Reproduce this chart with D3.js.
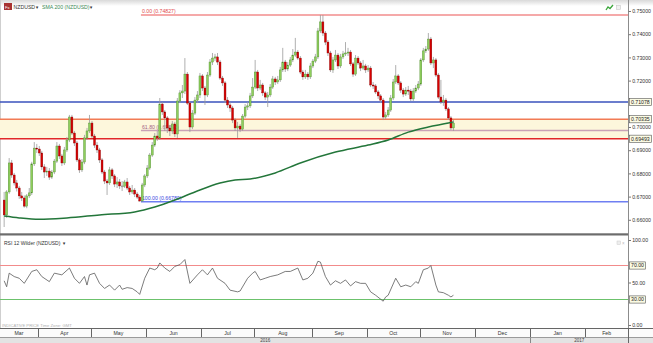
<!DOCTYPE html>
<html>
<head>
<meta charset="utf-8">
<script src="https://cdn.jsdelivr.net/npm/d3@7"></script>
<style>
  body { margin: 0; background: #fff; }
  svg { display: block; font-family: "Liberation Sans", Arial, sans-serif; }
</style>
</head>
<body>
<div id="chart"></div>
<script>
// ---- data ----
var firstDay = new Date(2016, 2, 14), lastDay = new Date(2017, 1, 25);

var opens = [
  0.6685, 0.6621, 0.6720, 0.6845, 0.6793, 0.6759, 0.6737, 0.6703, 0.6694, 0.6659,
  0.6703, 0.6716, 0.6841, 0.6909, 0.6905, 0.6888, 0.6828, 0.6806, 0.6810, 0.6784,
  0.6806, 0.6853, 0.6918, 0.6875, 0.6845, 0.6901, 0.6944, 0.7043, 0.6974, 0.6931,
  0.6858, 0.6815, 0.6849, 0.6953, 0.6983, 0.7017, 0.6961, 0.6922, 0.6901, 0.6858,
  0.6806, 0.6767, 0.6759, 0.6815, 0.6789, 0.6754, 0.6763, 0.6746, 0.6745, 0.6763,
  0.6737, 0.6720, 0.6728, 0.6711, 0.6698, 0.6681, 0.6750, 0.6789, 0.6823, 0.6879,
  0.6922, 0.6961, 0.6953, 0.7099, 0.7065, 0.7039, 0.6996, 0.6983, 0.7013, 0.6970,
  0.7112, 0.7147, 0.7155, 0.7228, 0.7103, 0.7000, 0.7060, 0.7116, 0.7138, 0.7220,
  0.7168, 0.7138, 0.7224, 0.7280, 0.7297, 0.7302, 0.7280, 0.7211, 0.7190, 0.7116,
  0.7095, 0.7082, 0.7030, 0.6996, 0.7004, 0.6991, 0.7047, 0.7086, 0.7091, 0.7134,
  0.7172, 0.7237, 0.7168, 0.7181, 0.7147, 0.7129, 0.7138, 0.7172, 0.7207, 0.7194,
  0.7203, 0.7246, 0.7280, 0.7250, 0.7267, 0.7289, 0.7310, 0.7323, 0.7297, 0.7237,
  0.7216, 0.7228, 0.7216, 0.7263, 0.7284, 0.7302, 0.7414, 0.7453, 0.7405, 0.7366,
  0.7319, 0.7246, 0.7289, 0.7310, 0.7263, 0.7302, 0.7315, 0.7319, 0.7323, 0.7272,
  0.7228, 0.7297, 0.7276, 0.7254, 0.7263, 0.7246, 0.7254, 0.7181, 0.7177, 0.7151,
  0.7134, 0.7116, 0.7043, 0.7052, 0.7073, 0.7125, 0.7194, 0.7220, 0.7190, 0.7159,
  0.7142, 0.7159, 0.7155, 0.7121, 0.7155, 0.7168, 0.7185, 0.7289, 0.7328, 0.7336,
  0.7379, 0.7276, 0.7289, 0.7224, 0.7129, 0.7108, 0.7116, 0.7078, 0.7039, 0.6996
];
var closes = [
  0.6621, 0.6720, 0.6845, 0.6793, 0.6759, 0.6737, 0.6703, 0.6694, 0.6659, 0.6703,
  0.6716, 0.6841, 0.6909, 0.6905, 0.6888, 0.6828, 0.6806, 0.6810, 0.6784, 0.6806,
  0.6853, 0.6918, 0.6875, 0.6845, 0.6901, 0.6944, 0.7043, 0.6974, 0.6931, 0.6858,
  0.6815, 0.6849, 0.6953, 0.6983, 0.7017, 0.6961, 0.6922, 0.6901, 0.6858, 0.6806,
  0.6767, 0.6759, 0.6815, 0.6789, 0.6754, 0.6763, 0.6746, 0.6745, 0.6763, 0.6737,
  0.6720, 0.6728, 0.6711, 0.6698, 0.6681, 0.6750, 0.6789, 0.6823, 0.6879, 0.6922,
  0.6961, 0.6953, 0.7099, 0.7065, 0.7039, 0.6996, 0.6983, 0.7013, 0.6970, 0.7112,
  0.7147, 0.7155, 0.7228, 0.7103, 0.7000, 0.7060, 0.7116, 0.7138, 0.7220, 0.7168,
  0.7138, 0.7224, 0.7280, 0.7297, 0.7302, 0.7280, 0.7211, 0.7190, 0.7116, 0.7095,
  0.7082, 0.7030, 0.6996, 0.7004, 0.6991, 0.7047, 0.7086, 0.7091, 0.7134, 0.7172,
  0.7237, 0.7168, 0.7181, 0.7147, 0.7129, 0.7138, 0.7172, 0.7207, 0.7194, 0.7203,
  0.7246, 0.7280, 0.7250, 0.7267, 0.7289, 0.7310, 0.7323, 0.7297, 0.7237, 0.7216,
  0.7228, 0.7216, 0.7263, 0.7284, 0.7302, 0.7414, 0.7453, 0.7405, 0.7366, 0.7319,
  0.7246, 0.7289, 0.7310, 0.7263, 0.7302, 0.7315, 0.7319, 0.7323, 0.7272, 0.7228,
  0.7297, 0.7276, 0.7254, 0.7263, 0.7246, 0.7254, 0.7181, 0.7177, 0.7151, 0.7134,
  0.7116, 0.7043, 0.7052, 0.7073, 0.7125, 0.7194, 0.7220, 0.7190, 0.7159, 0.7142,
  0.7159, 0.7155, 0.7121, 0.7155, 0.7168, 0.7185, 0.7289, 0.7328, 0.7336, 0.7379,
  0.7276, 0.7289, 0.7224, 0.7129, 0.7108, 0.7116, 0.7078, 0.7039, 0.6996, 0.7017
];
var highs = [
  0.6720, 0.6728, 0.6866, 0.6858, 0.6802, 0.6772, 0.6746, 0.6720, 0.6705, 0.6711,
  0.6737, 0.6850, 0.6935, 0.6927, 0.6918, 0.6897, 0.6840, 0.6828, 0.6823, 0.6815,
  0.6862, 0.6935, 0.6927, 0.6884, 0.6914, 0.6957, 0.7052, 0.7052, 0.6983, 0.6940,
  0.6866, 0.6862, 0.6966, 0.6996, 0.7052, 0.7026, 0.6970, 0.6935, 0.6910, 0.6866,
  0.6815, 0.6776, 0.6828, 0.6823, 0.6797, 0.6784, 0.6776, 0.6767, 0.6772, 0.6780,
  0.6746, 0.6750, 0.6737, 0.6720, 0.6707, 0.6759, 0.6797, 0.6836, 0.6888, 0.6935,
  0.6974, 0.6983, 0.7125, 0.7108, 0.7073, 0.7047, 0.7009, 0.7026, 0.7022, 0.7125,
  0.7159, 0.7181, 0.7297, 0.7237, 0.7112, 0.7073, 0.7129, 0.7155, 0.7233, 0.7228,
  0.7177, 0.7237, 0.7293, 0.7319, 0.7315, 0.7319, 0.7289, 0.7220, 0.7198, 0.7129,
  0.7108, 0.7091, 0.7039, 0.7022, 0.7013, 0.7056, 0.7099, 0.7108, 0.7147, 0.7211,
  0.7289, 0.7246, 0.7203, 0.7190, 0.7155, 0.7151, 0.7185, 0.7220, 0.7216, 0.7220,
  0.7259, 0.7341, 0.7289, 0.7280, 0.7302, 0.7336, 0.7384, 0.7332, 0.7306, 0.7246,
  0.7246, 0.7237, 0.7276, 0.7293, 0.7315, 0.7427, 0.7483, 0.7483, 0.7414, 0.7375,
  0.7328, 0.7302, 0.7332, 0.7319, 0.7315, 0.7328, 0.7366, 0.7341, 0.7332, 0.7280,
  0.7310, 0.7306, 0.7284, 0.7289, 0.7272, 0.7267, 0.7263, 0.7194, 0.7185, 0.7159,
  0.7142, 0.7125, 0.7065, 0.7086, 0.7138, 0.7207, 0.7267, 0.7228, 0.7198, 0.7168,
  0.7172, 0.7177, 0.7164, 0.7168, 0.7181, 0.7198, 0.7297, 0.7341, 0.7349, 0.7405,
  0.7388, 0.7302, 0.7297, 0.7233, 0.7203, 0.7138, 0.7125, 0.7086, 0.7047, 0.7030
];
var lows = [
  0.6569, 0.6608, 0.6712, 0.6781, 0.6748, 0.6722, 0.6690, 0.6681, 0.6652, 0.6650,
  0.6694, 0.6707, 0.6832, 0.6888, 0.6875, 0.6815, 0.6780, 0.6789, 0.6772, 0.6776,
  0.6797, 0.6845, 0.6862, 0.6832, 0.6836, 0.6892, 0.6935, 0.6966, 0.6918, 0.6849,
  0.6802, 0.6806, 0.6840, 0.6944, 0.6974, 0.6953, 0.6910, 0.6888, 0.6845, 0.6797,
  0.6754, 0.6707, 0.6750, 0.6776, 0.6741, 0.6737, 0.6733, 0.6724, 0.6737, 0.6728,
  0.6707, 0.6711, 0.6698, 0.6690, 0.6678, 0.6678, 0.6741, 0.6780, 0.6815, 0.6871,
  0.6914, 0.6940, 0.6944, 0.7052, 0.6983, 0.6974, 0.6961, 0.6970, 0.6957, 0.6953,
  0.7103, 0.7125, 0.7142, 0.7095, 0.6978, 0.6991, 0.7052, 0.7103, 0.7125, 0.7155,
  0.7095, 0.7129, 0.7216, 0.7267, 0.7284, 0.7267, 0.7203, 0.7177, 0.7103, 0.7082,
  0.7065, 0.7017, 0.6983, 0.6953, 0.6978, 0.6983, 0.7039, 0.7073, 0.7082, 0.7125,
  0.7164, 0.7155, 0.7159, 0.7134, 0.7116, 0.7086, 0.7129, 0.7164, 0.7181, 0.7185,
  0.7194, 0.7237, 0.7237, 0.7241, 0.7259, 0.7280, 0.7302, 0.7289, 0.7228, 0.7203,
  0.7207, 0.7203, 0.7207, 0.7254, 0.7276, 0.7293, 0.7405, 0.7392, 0.7353, 0.7306,
  0.7237, 0.7233, 0.7280, 0.7250, 0.7254, 0.7293, 0.7306, 0.7306, 0.7263, 0.7216,
  0.7220, 0.7267, 0.7241, 0.7246, 0.7233, 0.7237, 0.7172, 0.7164, 0.7142, 0.7121,
  0.7103, 0.7030, 0.7034, 0.7043, 0.7065, 0.7116, 0.7185, 0.7181, 0.7147, 0.7129,
  0.7134, 0.7138, 0.7112, 0.7112, 0.7147, 0.7159, 0.7177, 0.7280, 0.7319, 0.7328,
  0.7267, 0.7254, 0.7216, 0.7121, 0.7099, 0.7091, 0.7069, 0.7030, 0.6987, 0.6983
];

// SMA 200 read at points along the curve: [candle index, value]
var smaPoints = [
  [0, 0.6616], [6, 0.6608], [14, 0.6602], [25, 0.6608], [38, 0.6621], [52, 0.6634],
  [60, 0.6655], [68, 0.6685], [76, 0.6720], [86, 0.6759], [92, 0.6772], [98, 0.6776],
  [108, 0.6802], [118, 0.6845], [132, 0.6892], [145, 0.6922], [153, 0.6944],
  [161, 0.6978], [169, 0.7000], [177, 0.7017], [179, 0.7022]
];

// RSI 12 Wilder vertices: [candle index, value]
var rsiPoints = [
  [0, 52], [1, 45], [2, 61], [4, 57], [6, 55], [8, 49], [11, 63], [13, 65], [15, 57],
  [18, 51], [20, 61], [23, 59], [26, 67], [28, 55], [30, 49], [32, 57], [33, 47],
  [34, 59], [36, 61], [38, 49], [40, 43], [42, 47], [44, 41], [46, 47], [47, 42],
  [49, 44], [51, 43], [53, 39], [54, 36], [56, 55], [58, 67], [60, 65], [61, 67],
  [62, 73], [64, 67], [66, 63], [68, 69], [70, 71], [72, 77], [74, 49], [77, 59],
  [79, 65], [81, 59], [83, 67], [85, 55], [88, 49], [90, 41], [93, 39], [94, 40],
  [97, 55], [99, 61], [100, 63], [102, 53], [104, 55], [106, 57], [109, 59], [112, 63],
  [114, 63], [117, 67], [119, 53], [121, 55], [123, 61], [125, 75], [126, 74],
  [128, 57], [130, 47], [132, 52], [134, 49], [136, 53], [138, 46], [140, 51],
  [142, 49], [144, 49], [146, 39], [148, 35], [151, 28], [152, 33], [153, 35],
  [156, 55], [158, 45], [160, 47], [162, 45], [164, 51], [165, 49], [167, 65],
  [169, 67], [170, 70], [172, 47], [173, 39], [175, 38], [177, 35], [178, 33], [179, 35]
];

var levelValues = [0.71078, 0.70335, 0.69493];
var levelColors = ["#3a52bd", "#f27b55", "#e12828"];
var fibPct = ["0.00", "61.80", "100.00"];
var fibValues = [0.74827, 0.69852, 0.66780];
var fibColors = ["#f28c8c", "#c9a2b6", "#6f7ff2"];
var fibTextColors = ["#e24c4c", "#a46484", "#3a48e0"];
var fibStartIndex = 55;

// 0.71000 sits under the 0.71078 level box in the original, so it is not listed
var priceTicks = [0.66, 0.67, 0.68, 0.69, 0.70, 0.72, 0.73, 0.74, 0.75];
var rsiTicks = [0, 50, 100];
var rsiBandValues = [70, 30];
var rsiBandColors = ["#f28b8b", "#6cc26c"];

// ---- layout ----
var W = 653, H = 343;
var axisX = 628;
var priceTop = 0, priceBottom = 232;
var rsiTop = 240, rsiBottom = 325;

var svg = d3.select("#chart").append("svg")
    .attr("width", W)
    .attr("height", H);

var defs = svg.append("defs");
var grad = defs.append("linearGradient").attr("id", "hdr").attr("x1", 0).attr("x2", 0).attr("y1", 0).attr("y2", 1);
grad.append("stop").attr("offset", 0).attr("stop-color", "#d9d9d9");
grad.append("stop").attr("offset", 1).attr("stop-color", "#ffffff");
defs.append("clipPath").attr("id", "clipPrice")
  .append("rect").attr("x", 0).attr("y", priceTop).attr("width", axisX).attr("height", priceBottom - priceTop);
defs.append("clipPath").attr("id", "clipRsi")
  .append("rect").attr("x", 0).attr("y", 236).attr("width", axisX).attr("height", 92);

// scales
var dates = d3.timeDay.range(firstDay, lastDay).filter(function(d) { return d.getDay() % 6 !== 0; });
var x = d3.scaleBand()
    .domain(dates)
    .range([2.9, 630.4]);
function cx(i) { return x(dates[i]) + x.bandwidth() / 2; }

var y = d3.scaleLinear()
    .domain([0.65474, 0.75474])
    .range([priceBottom, priceTop]);

var yr = d3.scaleLinear()
    .domain([0, 100])
    .range([rsiBottom, rsiTop]);

// header strip
svg.append("rect").attr("x", 0).attr("y", 0).attr("width", W).attr("height", 6).attr("fill", "url(#hdr)");

// left border
svg.append("line").attr("x1", 0.5).attr("x2", 0.5).attr("y1", 0).attr("y2", 328)
  .attr("stroke", "#cfcfcf");

// ---- price panel ----
var pp = svg.append("g").attr("clip-path", "url(#clipPrice)");

// shaded zone between 0.70335 and 0.69493
pp.append("rect")
  .attr("x", 0)
  .attr("y", y(levelValues[1]))
  .attr("width", axisX)
  .attr("height", y(levelValues[2]) - y(levelValues[1]))
  .attr("fill", "#fdf7dc");

// fibonacci lines (start at swing low)
fibValues.forEach(function(v, k) {
  pp.append("line")
    .attr("x1", x(dates[fibStartIndex])).attr("x2", axisX)
    .attr("y1", y(v)).attr("y2", y(v))
    .attr("stroke", fibColors[k]).attr("stroke-width", 1.4);
  pp.append("text")
    .attr("x", x(dates[fibStartIndex]) + 1)
    .attr("y", y(v) - 1.6)
    .attr("font-size", 5.2)
    .attr("fill", fibTextColors[k])
    .text(fibPct[k] + " (" + d3.format(".5f")(v) + ")");
});

// horizontal levels
levelValues.forEach(function(v, k) {
  pp.append("line")
    .attr("x1", 0).attr("x2", axisX)
    .attr("y1", y(v)).attr("y2", y(v))
    .attr("stroke", levelColors[k]).attr("stroke-width", 1.4);
});

// candles
var candles = pp.selectAll("g.candle")
  .data(closes.map(function(c, i) { return { i: i, o: opens[i], h: highs[i], l: lows[i], c: c }; }))
  .enter().append("g").attr("class", "candle");

candles.append("line")
  .attr("x1", function(d) { return cx(d.i); })
  .attr("x2", function(d) { return cx(d.i); })
  .attr("y1", function(d) { return y(d.h); })
  .attr("y2", function(d) { return y(d.l); })
  .attr("stroke", "#9a9a9a")
  .attr("stroke-width", 0.8);

var bodyW = 1.9;
candles.append("rect")
  .attr("x", function(d) { return cx(d.i) - bodyW / 2; })
  .attr("y", function(d) { return y(Math.max(d.o, d.c)); })
  .attr("width", bodyW)
  .attr("height", function(d) { return Math.max(1, Math.abs(y(d.o) - y(d.c))); })
  .attr("fill", function(d) {
    if (Math.abs(d.c - d.o) < 0.0002) return "#b0b0b0";
    return d.c > d.o ? "#8fce5c" : "#d90000";
  })
  .attr("stroke", function(d) {
    if (Math.abs(d.c - d.o) < 0.0002) return "#8a8a8a";
    return d.c > d.o ? "#4f8f2f" : "#8a0000";
  })
  .attr("stroke-width", 0.4);

// SMA 200
pp.append("path")
  .datum(smaPoints)
  .attr("fill", "none")
  .attr("stroke", "#23763a")
  .attr("stroke-width", 1.5)
  .attr("d", d3.line()
    .x(function(d) { return cx(d[0]); })
    .y(function(d) { return y(d[1]); })
    .curve(d3.curveMonotoneX));

// header labels
svg.append("rect").attr("x", 4).attr("y", 3).attr("width", 8).attr("height", 7).attr("fill", "#a83232");
svg.append("text").attr("x", 5).attr("y", 8.6).attr("font-size", 4.2).attr("fill", "#fff").text("Fx");
svg.append("text").attr("x", 13.5).attr("y", 8.8).attr("font-size", 5.2).attr("fill", "#333").text("NZDUSD");
svg.append("text").attr("x", 35).attr("y", 8.8).attr("font-size", 4.2).attr("fill", "#333").text("▼");
svg.append("text").attr("x", 42).attr("y", 8.8).attr("font-size", 5.2).attr("fill", "#3b8a55").text("SMA 200 (NZDUSD)");
svg.append("text").attr("x", 89).attr("y", 8.8).attr("font-size", 4.2).attr("fill", "#333").text("▼");

// small icons top right
svg.append("path").attr("d", "M606,10 L608,7 L610,8.5 L613,5").attr("fill", "none")
  .attr("stroke", "#3aa53a").attr("stroke-width", 1.3);
svg.append("rect").attr("x", 616.5).attr("y", 5.5).attr("width", 4).attr("height", 4)
  .attr("fill", "#f0f0f0").attr("stroke", "#c8c8c8").attr("stroke-width", 0.6);

// price axis
svg.append("line").attr("x1", axisX + 0.5).attr("x2", axisX + 0.5).attr("y1", 0).attr("y2", 328)
  .attr("stroke", "#8c8c8c");
var pax = svg.append("g").attr("transform", "translate(" + (axisX + 0.5) + ",0)")
  .call(d3.axisRight(y).tickValues(priceTicks).tickSize(2.5).tickPadding(1.2).tickFormat(d3.format(".5f")));
pax.select(".domain").remove();
pax.selectAll("line").attr("stroke", "#777");
pax.selectAll("text").attr("font-size", 5.2).attr("fill", "#333").attr("font-family", "Liberation Sans, Arial, sans-serif");

function boxLabel(yy, txt) {
  svg.append("rect").attr("x", axisX + 1.5).attr("y", yy - 3.6).attr("width", 22).attr("height", 7.2)
    .attr("fill", "#fbfbe3").attr("stroke", "#555").attr("stroke-width", 0.6);
  svg.append("text").attr("x", axisX + 3).attr("y", yy + 1.9).attr("font-size", 5.2).attr("fill", "#222").text(txt);
}
levelValues.forEach(function(v) { boxLabel(y(v), d3.format(".5f")(v)); });

// panel separator
svg.append("rect").attr("x", 0).attr("y", 233.3).attr("width", axisX).attr("height", 2.2).attr("fill", "#6c6c6c");

// ---- RSI panel ----
var rp = svg.append("g").attr("clip-path", "url(#clipRsi)");
rsiBandValues.forEach(function(v, k) {
  rp.append("line").attr("x1", 0).attr("x2", axisX)
    .attr("y1", yr(v)).attr("y2", yr(v))
    .attr("stroke", rsiBandColors[k]).attr("stroke-width", 1.1);
});
rp.append("path")
  .datum(rsiPoints)
  .attr("fill", "none")
  .attr("stroke", "#5a5a5a")
  .attr("stroke-width", 0.8)
  .attr("d", d3.line()
    .x(function(d) { return cx(d[0]); })
    .y(function(d) { return yr(d[1]); }));

svg.append("text").attr("x", 4).attr("y", 245).attr("font-size", 5).attr("fill", "#333")
  .text("RSI 12 Wilder (NZDUSD)");
svg.append("text").attr("x", 62).attr("y", 245).attr("font-size", 4.2).attr("fill", "#333").text("▼");
svg.append("rect").attr("x", 617).attr("y", 241).attr("width", 3.5).attr("height", 3.5)
  .attr("fill", "#eee").attr("stroke", "#ccc").attr("stroke-width", 0.5);
svg.append("text").attr("x", 622).attr("y", 245).attr("font-size", 4.5).attr("fill", "#bbb").text("×");

var rax = svg.append("g").attr("transform", "translate(" + (axisX + 0.5) + ",0)")
  .call(d3.axisRight(yr).tickValues(rsiTicks).tickSize(2.5).tickPadding(1.2).tickFormat(d3.format(".2f")));
rax.select(".domain").remove();
rax.selectAll("line").attr("stroke", "#777");
rax.selectAll("text").attr("font-size", 5.2).attr("fill", "#333").attr("font-family", "Liberation Sans, Arial, sans-serif");
rsiBandValues.forEach(function(v) {
  svg.append("rect").attr("x", axisX + 1.5).attr("y", yr(v) - 3.6).attr("width", 16).attr("height", 7.2)
    .attr("fill", "#fbfbe3").attr("stroke", "#555").attr("stroke-width", 0.6);
  svg.append("text").attr("x", axisX + 3).attr("y", yr(v) + 1.9).attr("font-size", 5.2).attr("fill", "#222")
    .text(d3.format(".2f")(v));
});

svg.append("text").attr("x", 2).attr("y", 327.3).attr("font-size", 4.2).attr("fill", "#b0b0b0")
  .text("INDICATIVE PRICE    Time Zone: GMT");

// ---- time axis ----
var ta = svg.append("g");
ta.append("rect").attr("x", 0).attr("y", 328).attr("width", W).attr("height", 9).attr("fill", "#fbfbfb");
ta.append("rect").attr("x", 0).attr("y", 337).attr("width", W).attr("height", 6).attr("fill", "#e3e3e3");
ta.append("line").attr("x1", 0).attr("x2", W).attr("y1", 328.5).attr("y2", 328.5).attr("stroke", "#666");
ta.append("line").attr("x1", 0).attr("x2", W).attr("y1", 337.5).attr("y2", 337.5).attr("stroke", "#9a9a9a");

var monthStarts = dates.filter(function(d, i) { return i > 0 && d.getMonth() !== dates[i - 1].getMonth(); });
var edges = [0].concat(monthStarts.map(function(d) { return x(d); })).concat([axisX]);
var monthFirst = [dates[0]].concat(monthStarts);
monthFirst.forEach(function(d, k) {
  var x0 = edges[k], x1 = Math.min(edges[k + 1], axisX);
  if (x0 >= axisX) return;
  ta.append("text")
    .attr("x", (x0 + x1) / 2).attr("y", 334.8)
    .attr("text-anchor", "middle").attr("font-size", 5.2).attr("fill", "#333")
    .text(d3.timeFormat("%b")(d));
});
monthStarts.forEach(function(d) {
  ta.append("line").attr("x1", Math.round(x(d)) + 0.5).attr("x2", Math.round(x(d)) + 0.5)
    .attr("y1", 328.5).attr("y2", 337)
    .attr("stroke", "#666");
});
ta.append("line").attr("x1", axisX + 0.5).attr("x2", axisX + 0.5).attr("y1", 328.5).attr("y2", 343).attr("stroke", "#666");

var yearStart = monthStarts.filter(function(d) { return d.getMonth() === 0; })[0];
var yx = Math.round(x(yearStart)) + 0.5;
ta.append("line").attr("x1", yx).attr("x2", yx).attr("y1", 337.5).attr("y2", 343).attr("stroke", "#888");
ta.append("text").attr("x", yx / 2).attr("y", 342.2).attr("text-anchor", "middle")
  .attr("font-size", 4.6).attr("fill", "#444").text(d3.timeFormat("%Y")(dates[0]));
ta.append("text").attr("x", (yx + axisX) / 2).attr("y", 342.2).attr("text-anchor", "middle")
  .attr("font-size", 4.6).attr("fill", "#444").text(d3.timeFormat("%Y")(yearStart));
</script>
</body>
</html>
